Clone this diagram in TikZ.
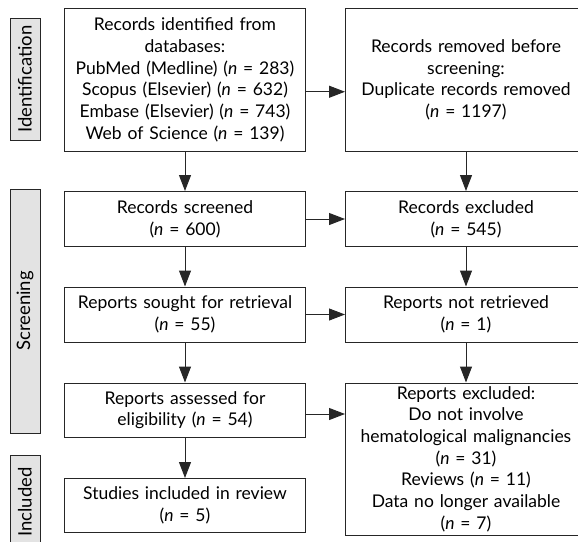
\documentclass[tikz,border=0pt]{standalone}
\usepackage{fontspec}
\setmainfont{Lato}
\usepackage{tikz}
\usetikzlibrary{arrows.meta,positioning}

\begin{document}
\begin{tikzpicture}[->, >={Triangle[length=16pt,width=12pt]}, x=1pt, y=1pt, node distance=40pt, line width=1pt, draw=black!85,
    box/.style={rectangle, draw=black!85, inner xsep=3pt, inner ysep=0pt, text width=235pt, align=center, font=\fontsize{17.5}{21.7}\selectfont},
    phase/.style={rectangle, draw=black!85, fill=black!11, rotate=90, minimum height=30pt, inner ysep=0pt, font=\fontsize{18.5}{19}\selectfont}]
    \useasboundingbox (0,0) rectangle (578,-541);
    \clip (0,0) rectangle (578,-541);
    \node[box, minimum height=142.5pt, anchor=north west] (L1) at (64,-8) {Records identified from\\databases:\\PubMed (Medline) (\textit{n} = 283)\\Scopus (Elsevier) (\textit{n} = 632)\\Embase (Elsevier) (\textit{n} = 743)\\Web of Science (\textit{n} = 139)};
    \node[box, minimum height=142.5pt] (R1) [right=39pt of L1] {Records removed before\\screening:\\Duplicate records removed\\(\textit{n} = 1197)};
    \node[box, minimum height=55pt] (L2) [below=39.5pt of L1] {Records screened\\(\textit{n} = 600)};
    \node[box, minimum height=55pt] (R2) [right=39pt of L2] {Records excluded\\(\textit{n} = 545)};
    \node[box, minimum height=55pt] (L3) [below=39.5pt of L2] {Reports sought for retrieval\\(\textit{n} = 55)};
    \node[box, minimum height=55pt] (R3) [right=39pt of L3] {Reports not retrieved\\(\textit{n} = 1)};
    \node[box, minimum height=54pt] (L4) [below=of L3] {Reports assessed for\\eligibility (\textit{n} = 54)};
    \node[box, minimum height=152pt] (R4) [below=of R3] {Reports excluded:\\Do not involve\\hematological malignancies\\(\textit{n} = 31)\\Reviews (\textit{n} = 11)\\Data no longer available\\(\textit{n} = 7)};
    \node[box, minimum height=54pt] (L5) [below=40.5pt of L4] {Studies included in review\\(\textit{n} = 5)};

    \node[phase, minimum width=122pt] (P1) at (25,-79) {Identification};
    \node[phase, minimum width=244pt] (P2) at (25,-311) {Screening};
    \node[phase, minimum width=100pt, anchor=east, inner xsep=12pt, text width=76pt, align=right] (P3) at (25,-455) {Included};

    \path
        (L1) edge (L2)
        (L2) edge (L3)
        (L3) edge (L4)
        (L4) edge (L5)
        (R1) edge (R2)
        (R2) edge (R3)
        (R3) edge (R4)
        ([yshift=-12pt]L1.east) edge ([yshift=-12pt]L1.east -| R1.west)
        (L2) edge (R2)
        (L3) edge (R3)
        ([yshift=-4pt]L4.east) edge ([yshift=-4pt]L4.east -| R4.west);
\end{tikzpicture}
\end{document}
